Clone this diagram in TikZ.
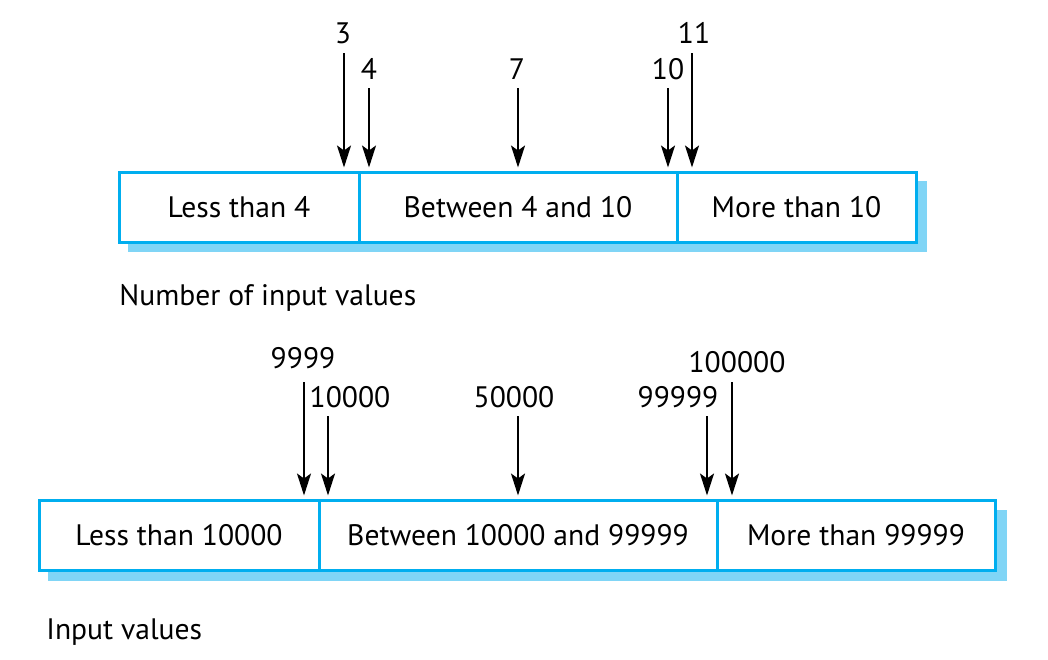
\documentclass[tikz,border=0pt]{standalone}
\usepackage{fontspec}
\setmainfont{PT Sans}
\usetikzlibrary{arrows.meta}

\definecolor{boxblue}{HTML}{00AEEF}
\definecolor{shadowblue}{HTML}{80D5F6}

\tikzset{
    cell/.style={draw=boxblue, line width=1.5pt, fill=white, minimum height=35pt, inner sep=0pt},
    val/.style={inner sep=0pt},
    pointer/.style={-{Stealth[length=11pt, width=7pt, inset=2.5pt]}, line width=1pt, shorten >=1.5pt},
}

\begin{document}
\begin{tikzpicture}[x=0.5pt, y=-0.5pt, font=\fontsize{14.8}{17}\selectfont]
    \useasboundingbox (0,0) rectangle (1048,659);

    % number of input values
    \fill[shadowblue] (128,181) rectangle (927,252);
    \node[cell, minimum width=120pt]   (lt4)  at (239,207)   {Less than 4};
    \node[cell, minimum width=159pt]   (mid4) at (518,207)   {Between 4 and 10};
    \node[cell, minimum width=119.5pt] (gt10) at (796.5,207) {More than 10};
    \node[anchor=base west, inner sep=0pt] (cap1) at (119,305) {Number of input values};

    \coordinate (p3)  at (344,53);
    \coordinate (p4)  at (369,88);
    \coordinate (p7)  at (518,88);
    \coordinate (p10) at (668,88);
    \coordinate (p11) at (692,53);
    \node[val] (v3)  at (343,33) {3};
    \node[val] (v4)  at (369,69) {4};
    \node[val] (v7)  at (517,69) {7};
    \node[val] (v10) at (668,69) {10};
    \node[val] (v11) at (694,33) {11};

    \draw[pointer] (p3)  to (p3 |- lt4.north);
    \draw[pointer] (p4)  to (p4 |- lt4.north);
    \draw[pointer] (p7)  to (p7 |- lt4.north);
    \draw[pointer] (p10) to (p10 |- lt4.north);
    \draw[pointer] (p11) to (p11 |- lt4.north);

    % input values
    \fill[shadowblue] (48,510) rectangle (1007,581);
    \node[cell, minimum width=140pt] (lt10k)  at (179,535) {Less than 10000};
    \node[cell, minimum width=199pt] (mid10k) at (518,535) {Between 10000 and 99999};
    \node[cell, minimum width=139pt] (gt99k)  at (856,535) {More than 99999};
    \node[anchor=base west, inner sep=0pt] (cap2) at (46,639) {Input values};

    \coordinate (p9999)   at (304,382);
    \coordinate (p10000)  at (328,416);
    \coordinate (p50000)  at (518,416);
    \coordinate (p99999)  at (707,416);
    \coordinate (p100000) at (732,382);
    \node[val] (v9999)   at (303,358) {9999};
    \node[val] (v10000)  at (350,397) {10000};
    \node[val] (v50000)  at (514,397) {50000};
    \node[val] (v99999)  at (678,397) {99999};
    \node[val] (v100000) at (737,362) {100000};

    \draw[pointer] (p9999)   to (p9999 |- lt10k.north);
    \draw[pointer] (p10000)  to (p10000 |- lt10k.north);
    \draw[pointer] (p50000)  to (p50000 |- lt10k.north);
    \draw[pointer] (p99999)  to (p99999 |- lt10k.north);
    \draw[pointer] (p100000) to (p100000 |- lt10k.north);

\end{tikzpicture}
\end{document}
